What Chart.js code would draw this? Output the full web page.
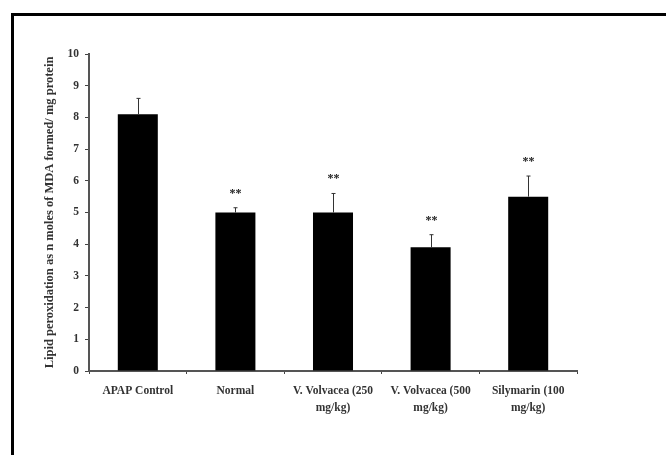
<!DOCTYPE html>
<html>
<head>
<meta charset="utf-8">
<script src="https://cdn.jsdelivr.net/npm/chart.js@4"></script>
<style>
  html, body { margin: 0; padding: 0; background: #fff; }
  #wrap { position: relative; width: 666px; height: 455px; overflow: hidden; }
  #frame { position: absolute; left: 11px; top: 13px; width: 700px; height: 500px;
           border-left: 3px solid #000; border-top: 3px solid #000; pointer-events: none; }
  canvas { position: absolute; left: 0; top: 0; }
</style>
</head>
<body>
<div id="wrap">
  <canvas id="chart" width="666" height="455"></canvas>
  <div id="frame"></div>
</div>
<script>
// Lipid peroxidation per group
const groups = ["APAP Control", "Normal", ["V. Volvacea (250", "mg/kg)"], ["V. Volvacea (500", "mg/kg)"], ["Silymarin (100", "mg/kg)"]];
const mdaMeans = [8.1, 5.0, 5.0, 3.9, 5.5];
const mdaErrors = [0.5, 0.15, 0.6, 0.4, 0.65];
const signif = ["", "**", "**", "**", "**"];
const yTicks = [0, 1, 2, 3, 4, 5, 6, 7, 8, 9, 10];

const FONT = "'Liberation Serif', 'Times New Roman', serif";

// error bars + significance stars
const errorBars = {
  id: "errorBars",
  afterDatasetsDraw(chart) {
    const ctx = chart.ctx;
    const y = chart.scales.y;
    const meta = chart.getDatasetMeta(0);
    ctx.save();
    ctx.strokeStyle = "#333";
    ctx.lineWidth = 1;
    meta.data.forEach((bar, i) => {
      const x = Math.round(bar.x) + 0.5;
      const yTop = y.getPixelForValue(mdaMeans[i] + mdaErrors[i]);
      const yBase = y.getPixelForValue(mdaMeans[i]);
      ctx.beginPath();
      ctx.moveTo(x, yBase);
      ctx.lineTo(x, yTop);
      ctx.moveTo(x - 2, yTop);
      ctx.lineTo(x + 2, yTop);
      ctx.stroke();
      if (signif[i]) {
        ctx.fillStyle = "#222";
        ctx.font = "bold 12px " + FONT;
        ctx.textAlign = "center";
        ctx.textBaseline = "alphabetic";
        ctx.fillText(signif[i], x, yTop - 11);
      }
    });
    ctx.restore();
  }
};

new Chart(document.getElementById("chart"), {
  type: "bar",
  data: {
    labels: groups,
    datasets: [{
      data: mdaMeans,
      backgroundColor: "#000",
      borderWidth: 0,
      barPercentage: 0.41,
      categoryPercentage: 1
    }]
  },
  options: {
    responsive: false,
    animation: false,
    events: [],
    layout: { padding: { left: 40, top: 54, right: 89, bottom: 0 } },
    plugins: { legend: { display: false }, tooltip: { enabled: false } },
    scales: {
      x: {
        afterFit: s => { s.height = 84; },
        grid: { offset: true, drawOnChartArea: false, tickLength: 3, color: "#444", lineWidth: 1 },
        border: { color: "#555", width: 2 },
        ticks: {
          color: "#333",
          padding: 8,
          maxRotation: 0,
          autoSkip: false,
          font: { family: FONT, size: 11.5, weight: "bold", lineHeight: 1.5 }
        }
      },
      y: {
        min: 0,
        max: 10,
        afterFit: s => { s.width = 49; },
        afterBuildTicks: s => { s.ticks = yTicks.map(v => ({ value: v })); },
        grid: { drawOnChartArea: false, tickLength: 4, color: "#444", lineWidth: 1 },
        border: { color: "#555", width: 2 },
        ticks: {
          color: "#333",
          padding: 6,
          font: { family: FONT, size: 11.5, weight: "bold" }
        },
        title: {
          display: true,
          text: "Lipid peroxidation as n moles of MDA formed/ mg protein",
          color: "#333",
          padding: { top: 2, bottom: 0 },
          font: { family: FONT, size: 12.5, weight: "bold" }
        }
      }
    }
  },
  plugins: [errorBars]
});
</script>
</body>
</html>
